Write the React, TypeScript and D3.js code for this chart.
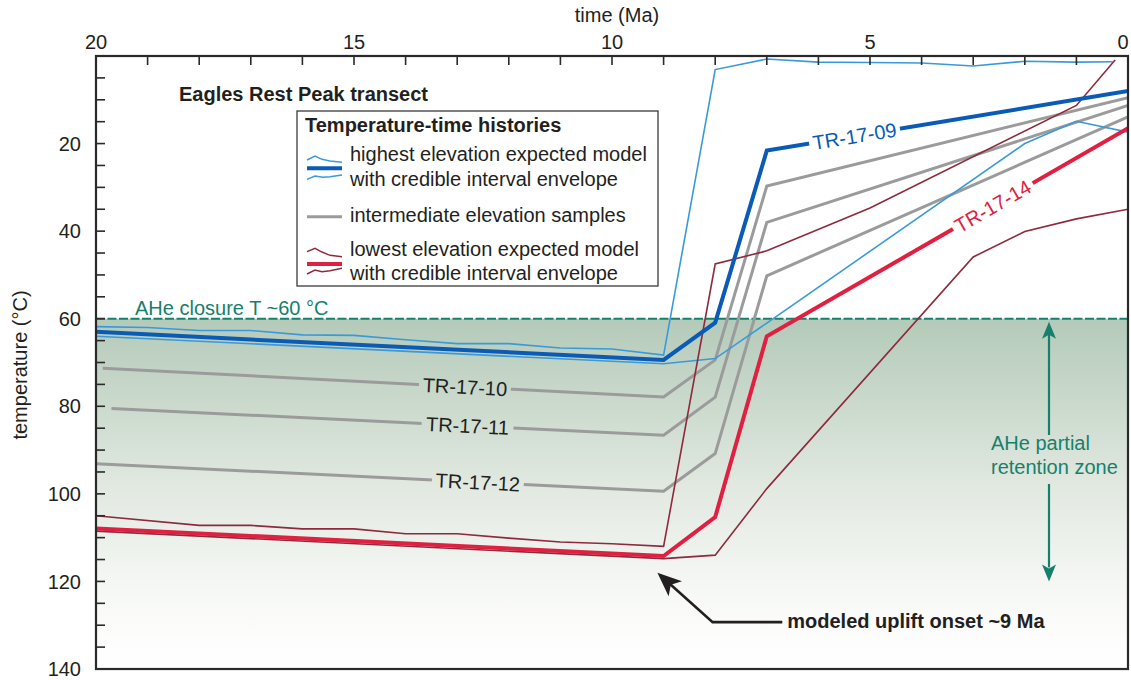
import * as d3 from "d3";

const W = 1131;
const H = 680;
const FONT = "Liberation Sans, Arial, Helvetica, sans-serif";

// [time (Ma), temperature (°C)]
const blueBest = [[20, 63], [9, 69.4], [8, 60.9], [7, 21.6], [0, 8]];
const blueUpper = [
  [20, 61.8], [19, 62], [18, 62.7], [17, 62.7], [16, 63.7], [15, 63.8], [14, 64.8],
  [13, 65.7], [12, 65.7], [11, 66.7], [10, 66.9], [9, 68.3], [8, 3.1], [7, 0.7],
  [6, 1.4], [5, 1.5], [4, 1.6], [3, 2.3], [2, 1.2], [1, 1.4], [0.3, 1.3]
];
const blueLower = [[20, 64], [9, 70.3], [8, 69.1], [7, 61], [2, 20], [1, 14.9], [0, 17.4]];
const tr10 = [[19.87, 71.3], [9, 77.9], [8, 69.4], [7, 29.7], [0, 9.5]];
const tr11 = [[19.7, 80.5], [9, 86.6], [8, 77.9], [7, 38], [0, 11.3]];
const tr12 = [[20, 93.1], [9, 99.4], [8, 90.8], [7, 50.2], [0, 13.9]];
const redBest = [[20, 107.9], [9, 114.2], [8, 105.3], [7, 64], [0, 16.5]];
const redUpper = [
  [20, 105], [18, 107.2], [17, 107.2], [16, 108], [15, 108], [14, 109.1], [13, 109.1],
  [12, 110.1], [11, 111], [10, 111.4], [9, 112], [8, 47.5], [7, 44.5], [5, 34.7],
  [1, 11.3], [0.25, 0.9]
];
const redLower = [[20, 108.5], [9, 114.8], [8, 114], [7, 98.8], [3, 45.9], [2, 40.1], [1, 37.2], [0, 35]];

const timeTicks = [20, 15, 10, 5, 0];
const tempTicks = [20, 40, 60, 80, 100, 120, 140];
const closureT = 60;
const przBottom = 120;

const lineLabels = [
  { name: "TR-17-09", data: blueBest, at: 5.3, color: "#0a5bb5" },
  { name: "TR-17-10", data: tr10, at: 12.85, color: "#231f20" },
  { name: "TR-17-11", data: tr11, at: 12.8, color: "#231f20" },
  { name: "TR-17-12", data: tr12, at: 12.6, color: "#231f20" },
  { name: "TR-17-14", data: redBest, at: 2.62, color: "#e02040" }
];

const plot = { left: 96, right: 1128, top: 56, bottom: 669 };
const x = d3.scaleLinear().domain([20, 0]).range([plot.left, plot.right]);
const y = d3.scaleLinear().domain([0, 140]).range([plot.top, plot.bottom]);
const line = d3.line<number[]>().x((d) => x(d[0])).y((d) => y(d[1]));

const teal = "#17806c";
const ink = "#231f20";

// point and direction along a series at time t
function onLine(pts: number[][], t: number) {
  for (let i = 0; i < pts.length - 1; i++) {
    const [t0, T0] = pts[i];
    const [t1, T1] = pts[i + 1];
    if (t <= t0 && t >= t1) {
      const f = (t0 - t) / (t0 - t1);
      const x0 = x(t0), y0 = y(T0), x1 = x(t1), y1 = y(T1);
      return {
        px: x0 + f * (x1 - x0),
        py: y0 + f * (y1 - y0),
        angle: (Math.atan2(y1 - y0, x1 - x0) * 180) / Math.PI
      };
    }
  }
  return { px: 0, py: 0, angle: 0 };
}

const maskFor = (name: string) => "gap-" + name;

export default function App() {
  const labels = lineLabels.map((l) => ({ ...l, ...onLine(l.data, l.at) }));
  const lab = (name: string) => labels.find((l) => l.name === name);
  const maskUrl = (name: string) => (lab(name) ? `url(#${maskFor(name)})` : undefined);

  const minorT = d3.range(5, 140, 5);
  const minorX = d3.range(19, 0, -1);

  const arrowX = 1049;
  const tip = [x(9.12), y(118)];
  const elbow = [x(8.05), y(129.3)];
  const tail = [x(6.7), y(129.3)];
  const ang = Math.atan2(elbow[1] - tip[1], elbow[0] - tip[0]);

  const series = [
    { data: tr10, color: "#9b9b9b", w: 3, name: "TR-17-10" },
    { data: tr11, color: "#9b9b9b", w: 3, name: "TR-17-11" },
    { data: tr12, color: "#9b9b9b", w: 3, name: "TR-17-12" },
    { data: blueUpper, color: "#3a9ad9", w: 1.6, name: "" },
    { data: blueLower, color: "#3a9ad9", w: 1.6, name: "" },
    { data: redUpper, color: "#8e2a3c", w: 1.6, name: "" },
    { data: redLower, color: "#8e2a3c", w: 1.6, name: "" },
    { data: blueBest, color: "#0a5bb5", w: 4, name: "TR-17-09" },
    { data: redBest, color: "#e02040", w: 4, name: "TR-17-14" }
  ];

  return (
    <svg width={W} height={H} style={{ position: "absolute", left: 0, top: 0, fontFamily: FONT }}>
      <defs>
        <linearGradient id="prz" gradientUnits="userSpaceOnUse" x1="0" x2="0" y1={y(closureT)} y2={y(140)}>
          <stop offset="0" stopColor="#b4cab9" />
          <stop offset="0.5" stopColor="#e3eae2" />
          <stop offset="0.82" stopColor="#f9faf8" />
          <stop offset="1" stopColor="#ffffff" />
        </linearGradient>
        <clipPath id="plotClip">
          <rect x={plot.left} y={plot.top} width={plot.right - plot.left} height={plot.bottom - plot.top} />
        </clipPath>
        {labels.map((l) => (
          <mask id={maskFor(l.name)} key={l.name} maskUnits="userSpaceOnUse" x="0" y="0" width={W} height={H}>
            <rect x="0" y="0" width={W} height={H} fill="white" />
            <rect x={-46} y={-9} width={92} height={18} fill="black"
              transform={`translate(${l.px},${l.py}) rotate(${l.angle})`} />
          </mask>
        ))}
      </defs>

      <rect x={plot.left} y={y(closureT)} width={plot.right - plot.left} height={plot.bottom - y(closureT)} fill="url(#prz)" />
      <line x1={plot.left} x2={plot.right} y1={y(closureT)} y2={y(closureT)} stroke={teal} strokeWidth={2} strokeDasharray="9 2.5" />

      <g clipPath="url(#plotClip)">
        {series.map((s, i) => (
          <path key={i} d={line(s.data) ?? ""} fill="none" stroke={s.color} strokeWidth={s.w}
            strokeLinejoin="miter" mask={s.name ? maskUrl(s.name) : undefined} />
        ))}
      </g>

      {labels.map((l) => (
        <text key={l.name} x={0} y={0} dy="0.36em" textAnchor="middle" fontSize={20} fill={l.color}
          transform={`translate(${l.px},${l.py}) rotate(${l.angle})`}>{l.name}</text>
      ))}

      {/* annotations */}
      <text x={135} y={315} fontSize={20} fill={teal}>AHe closure T ~60 °C</text>
      <text x={179} y={101} fontSize={20} fontWeight="bold" fill={ink}>Eagles Rest Peak transect</text>

      <g stroke={teal} strokeWidth={2.2}>
        <line x1={arrowX} x2={arrowX} y1={y(closureT) + 14} y2={435} />
        <line x1={arrowX} x2={arrowX} y1={484} y2={y(przBottom) - 14} />
      </g>
      <path d={`M${arrowX},${y(closureT) + 3} l-7,17 l7,-4 l7,4 Z`} fill={teal} />
      <path d={`M${arrowX},${y(przBottom)} l-7,-17 l7,4 l7,-4 Z`} fill={teal} />
      <text x={991} y={450} fontSize={20} fill={teal}>AHe partial</text>
      <text x={991} y={474} fontSize={20} fill={teal}>retention zone</text>

      <polyline points={`${tip[0] + 12 * Math.cos(ang)},${tip[1] + 12 * Math.sin(ang)} ${elbow[0]},${elbow[1]} ${tail[0]},${tail[1]}`}
        fill="none" stroke={ink} strokeWidth={2.6} />
      <path transform={`translate(${tip[0]},${tip[1]}) rotate(${(ang * 180) / Math.PI})`} d="M0,0 L24,-10 L18,0 L24,10 Z" fill={ink} />
      <text x={tail[0] + 5} y={628} fontSize={20} fontWeight="bold" fill={ink}>modeled uplift onset ~9 Ma</text>

      {/* legend */}
      <g>
        <rect x={297} y={111} width={361} height={175} fill="white" stroke="#3a3a3a" strokeWidth={1.3} />
        <text x={305} y={132} fontSize={20} fontWeight="bold" fill={ink}>Temperature-time histories</text>
        <polyline points="307,160 315,156 322,159.3 330,161 342,162.3" fill="none" stroke="#3a9ad9" strokeWidth={1.4} />
        <line x1={307} x2={342} y1={168.3} y2={168.3} stroke="#0a5bb5" strokeWidth={4} />
        <polyline points="307,179.3 315,176 323,177.3 330,176.7 342,175" fill="none" stroke="#3a9ad9" strokeWidth={1.4} />
        <line x1={307} x2={342} y1={216.7} y2={216.7} stroke="#9b9b9b" strokeWidth={3} />
        <polyline points="307,251.7 315,248.3 322,252 330,255.3 342,256.7" fill="none" stroke="#8e2a3c" strokeWidth={1.4} />
        <line x1={307} x2={342} y1={264} y2={264} stroke="#e02040" strokeWidth={4} />
        <polyline points="307,274 315,270 322,271.7 330,270.7 342,268.3" fill="none" stroke="#8e2a3c" strokeWidth={1.4} />
        <g fontSize={20} fill={ink}>
          <text x={350} y={160.5}>highest elevation expected model</text>
          <text x={350} y={185.5}>with credible interval envelope</text>
          <text x={350} y={222}>intermediate elevation samples</text>
          <text x={350} y={255.5}>lowest elevation expected model</text>
          <text x={350} y={280}>with credible interval envelope</text>
        </g>
      </g>

      {/* axes */}
      <g stroke="#2a2a2a" strokeWidth={1.6}>
        {minorT.map((t) => (
          <line key={t} x1={plot.left} x2={plot.left + 9} y1={y(t)} y2={y(t)} />
        ))}
        {minorX.map((t) => (
          <line key={t} x1={x(t)} x2={x(t)} y1={plot.top} y2={plot.top + 9} />
        ))}
      </g>
      <rect x={plot.left} y={plot.top} width={plot.right - plot.left} height={plot.bottom - plot.top}
        fill="none" stroke="#2a2a2a" strokeWidth={2.2} />

      {timeTicks.map((t) => (
        <text key={t} x={Math.min(x(t), W - 8)} y={49} textAnchor="middle" fontSize={20} fill={ink}>{t}</text>
      ))}
      {tempTicks.map((t) => (
        <text key={t} x={81} y={y(t)} dy="0.36em" textAnchor="end" fontSize={20} fill={ink}>{t}</text>
      ))}
      <text x={(plot.left + plot.right) / 2 + 5} y={22} textAnchor="middle" fontSize={20} fill={ink}>time (Ma)</text>
      <text transform={`translate(27,365) rotate(-90)`} textAnchor="middle" fontSize={20} fill={ink}>temperature (°C)</text>
    </svg>
  );
}
